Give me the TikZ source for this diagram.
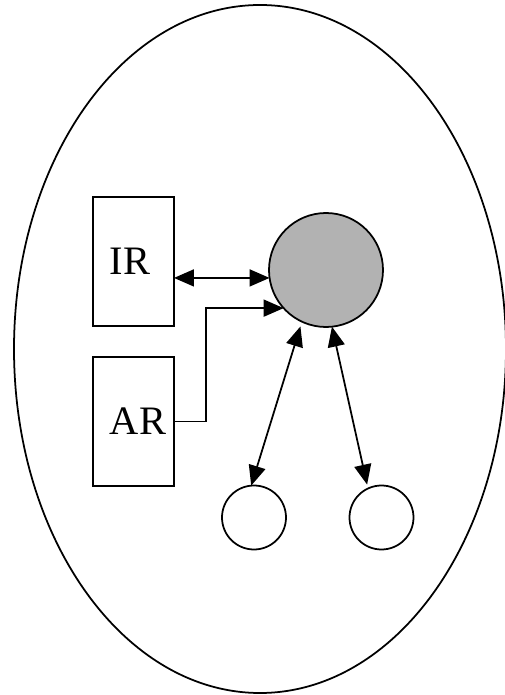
\documentclass[tikz,border=0pt]{standalone}
\usepackage{fontspec}
\setmainfont{Liberation Serif}
\usetikzlibrary{shapes.geometric,arrows.meta}

\begin{document}
\begin{tikzpicture}[
		line width=1pt,
		tip/.style={-{Triangle[length=0.4cm,width=0.34cm]}},
		bitip/.style={{Triangle[length=0.4cm,width=0.34cm]}-{Triangle[length=0.4cm,width=0.34cm]}},
		box/.style={draw, minimum width=1.62cm, minimum height=2.58cm, inner sep=0, outer sep=0, font=\fontsize{23}{27}\selectfont},
		ball/.style={draw, circle, inner sep=0, outer sep=0}
	]
			%%%%% START %%%%%
			\useasboundingbox (0, 0) rectangle (10.1, 13.9);
			
			\node[draw, ellipse, minimum width=9.84cm, minimum height=13.76cm, inner sep=0] (agent) at (5.2, 6.92) {};
			
			\node[box] (ir) at (2.67, 8.67) {IR\hspace*{0.14cm}};
			\node[box] (ar) at (2.67, 5.47) {\hspace*{0.18cm}AR};
			
			\node[ball, fill=black!30, minimum size=2.28cm] (core) at (6.52, 8.5) {};
			\node[ball, minimum size=1.28cm] (left) at (5.08, 3.55) {};
			\node[ball, minimum size=1.28cm] (right) at (7.63, 3.55) {};
			
			\draw[bitip] (ir.east |- core.188) -- (core.188);
			\draw[tip] (ar.east) -- ++(0.64, 0) |- (core.222);
			
			\draw[bitip, shorten <=0.1cm] (core.245) -- (left.95);
			\draw[bitip, shorten >=0.08cm] (core.276) -- (right.115);
			
			%%%%% END %%%%%
\end{tikzpicture}
\end{document}
